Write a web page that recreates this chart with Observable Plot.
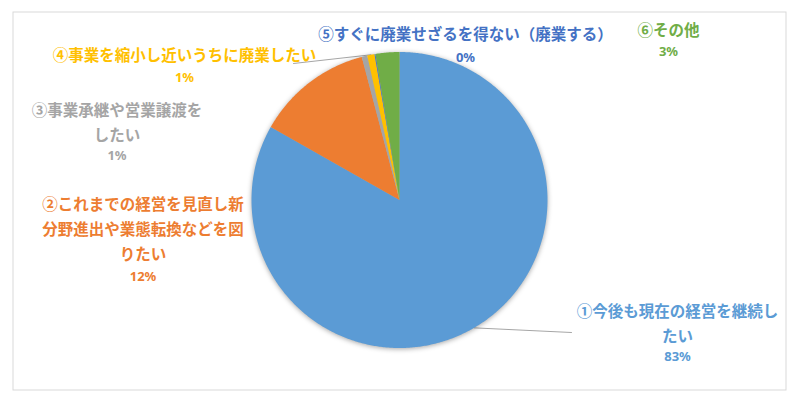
<!DOCTYPE html>
<html><head><meta charset="utf-8">
<script src="https://cdn.jsdelivr.net/npm/d3@7"></script>
<script src="https://cdn.jsdelivr.net/npm/@observablehq/plot@0.6"></script>
<style>body{margin:0;background:#fff} #chart svg{display:block}</style>
</head><body><div id="chart"></div>
<script>
// ---- data ----
const categories = [
  "①今後も現在の経営を継続したい",
  "②これまでの経営を見直し新分野進出や業態転換などを図りたい",
  "③事業承継や営業譲渡をしたい",
  "④事業を縮小し近いうちに廃業したい",
  "⑤すぐに廃業せざるを得ない（廃業する）",
  "⑥その他"
];
const labelText = [
  "①今後も現在の経営を継続し\nたい",
  "②これまでの経営を見直し新\n分野進出や業態転換などを図\nりたい",
  "③事業承継や営業譲渡を\nしたい",
  "④事業を縮小し近いうちに廃業したい",
  "⑤すぐに廃業せざるを得ない（廃業する）",
  "⑥その他"
];
const shares = [83.2, 12.7, 0.6, 0.8, 0.1, 2.6];
const pctLabels = ["83%", "12%", "1%", "1%", "0%", "3%"];
const colors = ["#5B9BD5", "#ED7D31", "#A5A5A5", "#FFC000", "#4472C4", "#70AD47"];

// ---- layout (not data) ----
const W = 796, H = 406;
const cx = 399, cy = 199.5, R = 148;
const LH = 25; // label line height px
const labelLayout = [
  {x: 677,   y: 320.5, py: 356},
  {x: 142.5, y: 226,   py: 276},
  {x: 116.5, y: 120,   py: 155.5},
  {x: 184,   y: 52,    py: 77},
  {x: 465,   y: 31.5,  py: 57},
  {x: 668,   y: 27,    py: 51}
];
// leader lines: slice index -> outer (label side) anchor
const leaders = [
  {i: 0, x: 571, y: 332},
  {i: 3, x: 293, y: 63}
];

const arcs = d3.pie().sort(null).value(d => d)(shares);
const slicePts = [];
arcs.forEach((a, i) => {
  const key = categories[i];
  slicePts.push({key, x: cx, y: cy});
  const n = Math.max(2, Math.ceil((a.endAngle - a.startAngle) / (Math.PI / 360)));
  for (let k = 0; k <= n; k++) {
    const t = a.startAngle + (a.endAngle - a.startAngle) * k / n;
    slicePts.push({key, x: cx + R * Math.sin(t), y: cy - R * Math.cos(t)});
  }
});
const leaderPts = [];
leaders.forEach(l => {
  const a = arcs[l.i];
  const m = (a.startAngle + a.endAngle) / 2;
  leaderPts.push({k: l.i, x: cx + R * Math.sin(m), y: cy - R * Math.cos(m)});
  leaderPts.push({k: l.i, x: l.x, y: l.y});
});
const idx = d3.range(categories.length);

const chart = Plot.plot({
  width: W, height: H, margin: 0,
  x: {type: "linear", domain: [0, W], range: [0, W], axis: null},
  y: {type: "linear", domain: [0, H], range: [0, H], axis: null},
  color: {domain: categories, range: colors},
  style: {fontFamily: "'Noto Sans CJK JP', sans-serif", background: "#fff"},
  marks: [
    Plot.frame({stroke: "#d9d9d9", insetLeft: 12.5, insetTop: 11.5, insetRight: 10.5, insetBottom: 16.5}),
    Plot.line(leaderPts, {x: "x", y: "y", z: "k", stroke: "#a6a6a6", strokeWidth: 1}),
    Plot.line(slicePts, {x: "x", y: "y", z: "key", fill: "key", stroke: null, curve: "linear-closed"}),
    Plot.text(idx, {
      x: i => labelLayout[i].x, y: i => labelLayout[i].y,
      text: i => labelText[i], fill: i => categories[i],
      fontSize: 15.5, fontWeight: "bold", lineHeight: LH / 15.5, lineAnchor: "middle", textAnchor: "middle"
    }),
    Plot.text(idx, {
      x: i => labelLayout[i].x, y: i => labelLayout[i].py,
      text: i => pctLabels[i], fill: i => categories[i],
      fontSize: 13, fontWeight: "bold", lineAnchor: "middle", textAnchor: "middle",
      fontFamily: "'Noto Sans', sans-serif"
    })
  ]
});
document.getElementById("chart").appendChild(chart);
const groups = chart.querySelectorAll('g[aria-label="line"]');
if (groups.length > 1) groups[1].style.filter = "drop-shadow(0px 1px 2.5px rgba(0,0,0,0.35))";
</script>
</body></html>
